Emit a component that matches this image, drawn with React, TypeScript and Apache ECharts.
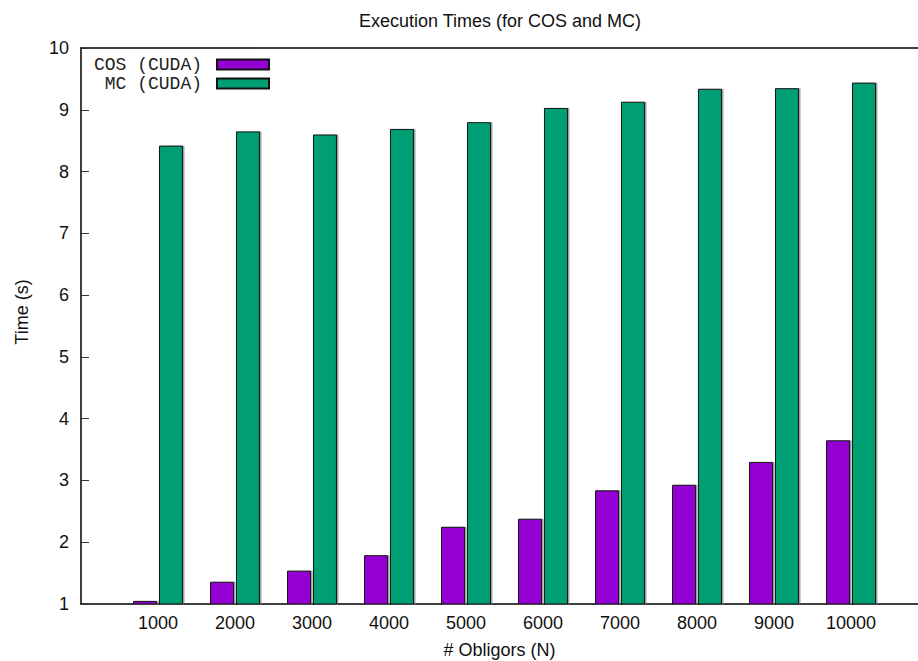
import React, { useEffect, useRef } from "react";
import * as echarts from "echarts";

const categories = ["1000", "2000", "3000", "4000", "5000", "6000", "7000", "8000", "9000", "10000"];
const cosValues = [1.05, 1.36, 1.54, 1.79, 2.25, 2.38, 2.84, 2.93, 3.3, 3.65];
const mcValues = [8.42, 8.65, 8.6, 8.69, 8.8, 9.03, 9.13, 9.34, 9.35, 9.44];
const seriesNames = ["COS (CUDA)", "MC (CUDA)"];
const yTicks = [1, 2, 3, 4, 5, 6, 7, 8, 9, 10];

const FONT = "'Liberation Sans', Arial, Helvetica, sans-serif";

export default function App() {
  const ref = useRef<HTMLDivElement>(null);
  useEffect(() => {
    if (!ref.current) return;
    const chart = echarts.init(ref.current, null, { renderer: "svg" });
    const xMin = -1;
    const xMax = 9.87;
    const barStyle = (color: string) => ({
      color,
      borderColor: "#111",
      borderWidth: 1,
      shadowColor: "rgba(120,120,120,0.7)",
      shadowOffsetX: 1.5,
      shadowOffsetY: 0,
      shadowBlur: 0,
    });
    chart.setOption({
      animation: false,
      backgroundColor: "#fff",
      grid: { left: 81, width: 837, top: 48, height: 556, containLabel: false, outerBoundsMode: "none" },
      graphic: [
        {
          type: "text",
          x: 500,
          y: 21,
          style: {
            text: "Execution Times (for COS and MC)",
            font: `18px ${FONT}`,
            fill: "#111",
            align: "center",
            verticalAlign: "middle",
          },
        },
        {
          type: "text",
          x: 22,
          y: 312,
          rotation: Math.PI / 2,
          style: {
            text: "Time (s)",
            font: `18px ${FONT}`,
            fill: "#111",
            align: "center",
            verticalAlign: "middle",
          },
        },
      ],
      legend: {
        data: seriesNames,
        orient: "vertical",
        align: "right",
        left: 94,
        top: 55,
        padding: 0,
        itemGap: 0,
        itemWidth: 52,
        itemHeight: 10,
        icon: "rect",
        textStyle: {
          fontFamily: "'Liberation Mono', 'Courier New', monospace",
          fontSize: 18,
          lineHeight: 19,
          color: "#222",
          padding: [0, 10, 0, 0],
        },
      },
      xAxis: [
        {
          type: "value",
          min: xMin,
          max: xMax,
          interval: 1,
          name: "# Obligors (N)",
          nameLocation: "middle",
          nameGap: 37,
          nameTextStyle: { fontFamily: FONT, fontSize: 18, color: "#111" },
          axisLine: { show: true, onZero: false, lineStyle: { color: "#000", width: 1.5 } },
          axisTick: { show: false },
          splitLine: { show: false },
          axisLabel: {
            fontFamily: FONT,
            fontSize: 18,
            color: "#111",
            margin: 10,
            showMaxLabel: false,
            formatter: (v: number) => {
              const r = Math.round(v);
              return Math.abs(v - r) < 1e-6 && r >= 0 && r < categories.length ? categories[r] : "";
            },
          },
        },
        {
          type: "value",
          position: "top",
          min: xMin,
          max: xMax,
          interval: 1,
          axisLine: { show: true, onZero: false, lineStyle: { color: "#000", width: 1.5 } },
          axisTick: { show: false },
          axisLabel: { show: false },
          splitLine: { show: false },
        },
      ],
      yAxis: {
        type: "value",
        min: yTicks[0],
        max: yTicks[yTicks.length - 1],
        interval: 1,
        axisLine: { show: true, onZero: false, lineStyle: { color: "#000", width: 1.5 } },
        axisTick: { show: true, inside: true, length: 8, lineStyle: { color: "#333", width: 1 } },
        splitLine: { show: false },
        axisLabel: { fontFamily: FONT, fontSize: 18, color: "#111", margin: 12 },
      },
      series: [
        {
          name: seriesNames[0],
          type: "bar",
          xAxisIndex: 0,
          barWidth: 24,
          barGap: "8%",
          data: cosValues.map((v, i) => [i, v]),
          itemStyle: barStyle("#9400d3"),
        },
        {
          name: seriesNames[1],
          type: "bar",
          xAxisIndex: 0,
          barWidth: 24,
          barGap: "8%",
          data: mcValues.map((v, i) => [i, v]),
          itemStyle: barStyle("#009e73"),
        },
      ],
    });
    return () => chart.dispose();
  }, []);
  return (
    <div
      ref={ref}
      style={{ position: "fixed", left: 0, top: 0, width: 918, height: 661, background: "#fff" }}
    />
  );
}
